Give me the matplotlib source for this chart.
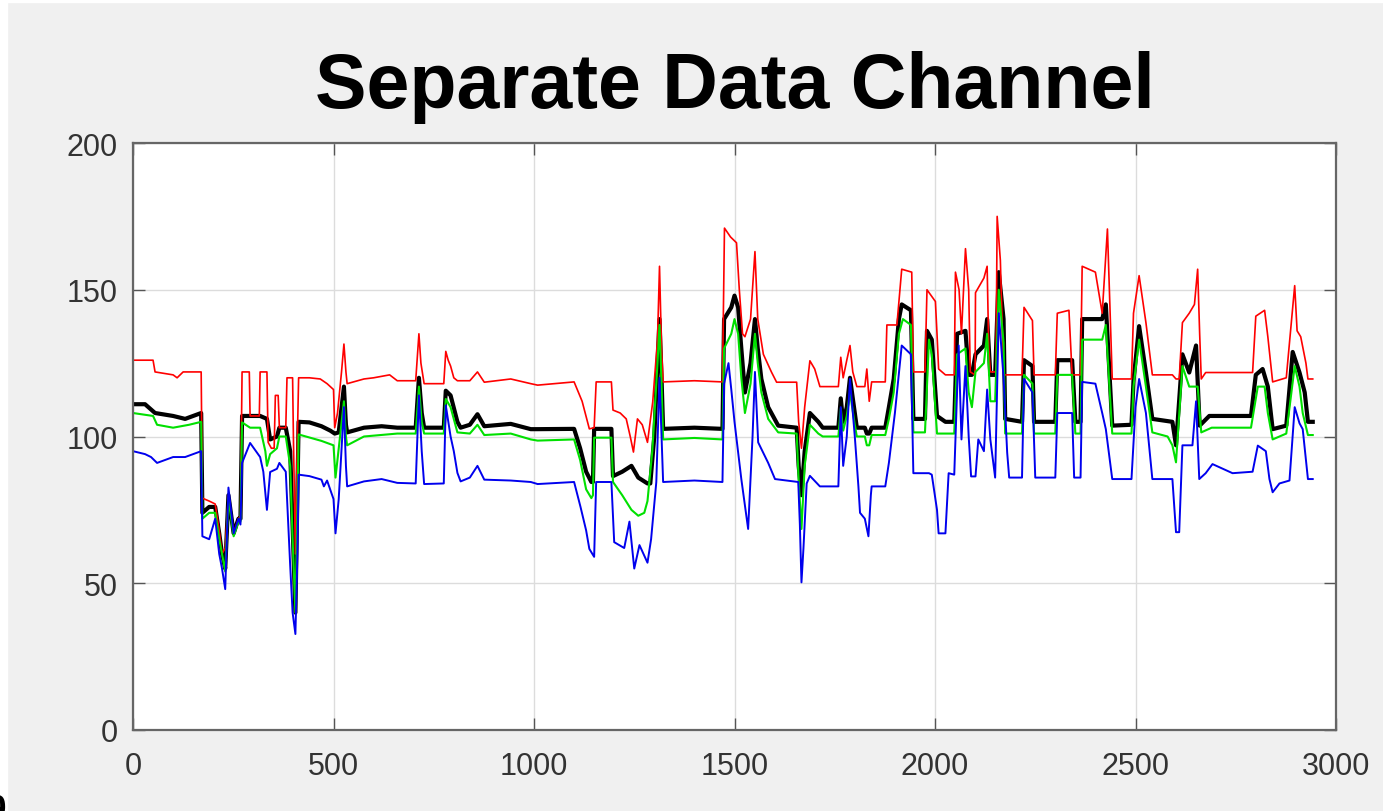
import matplotlib; matplotlib.use("Agg")
import matplotlib.pyplot as plt
from matplotlib.patches import Rectangle
plt.rcParams.update({"font.family":"Liberation Sans","font.size":22})

# values (x = sample index, y = channel value)
RED_X=[0,50,55,100,110,125,170,173,190,205,215,222,230,238,251,263,268,272,290,292,315,317,334,337,345,352,355,362,365,381,384,398,400,405,410,413,
 440,467,484,500,503,510,520,526,531,534,576,600,640,659,705,713,718,726,775,780,786,792,800,809,840,859,876,942,992,1009,
 1100,1120,1138,1150,1155,1193,1197,1215,1230,1240,1248,1258,1270,1283,1296,1308,1313,1318,1322,1400,1470,
 1475,1490,1505,1512,1520,1526,1540,1551,1558,1572,1592,1605,1655,1660,1667,1675,1688,1700,1713,1759,1765,1771,1780,1788,1795,1805,1825,1830,1836,1842,1876,1880,1905,1917,1942,1946,1975,1980,2001,2005,2009,2026,2048,2051,2060,2066,2076,2084,2088,2100,2101,2122,2130,2134,2138,2152,2155,2163,2171,2217,2222,2243,2247,2300,2305,2334,2342,2363,2367,2400,2417,2430,2442,2490,2495,2509,2526,2542,2592,2601,2609,2617,2634,2647,2655,2660,2664,2675,2792,2800,2822,2830,2842,2876,2897,2903,2912,2925,2930,2942]
RED_Y=[126,126,122,121,120,122,122,79,78,77,68,60,62,80,67,72,73,122,122,107,107,122,122,98,96,96,114,114,103,103,120,120,100,60,100,120,
 120,119.6,118,116,103,108,122,131.5,122,118,119.6,120,121,119,119,135,125,118,118,129,126,124,120,119,119,122,118.5,119.6,118,117.5,
 118.6,112,102.6,103,118.6,118.6,109,108,106,100,94.7,106,104,98,111.7,133,158,130,118.6,119,118.6,
 171,168,166,150,135,134,140,163,140,128,122,118.5,118.5,105,96,110,125.8,123,117,117,127,120,126,131,122,117,117,123,112,118.6,118.6,138,138,157,156,122,122,150,146,135,123,121,121,156,150,135,164,150,122,121,149,154,158,130,122,122,175,160,121,121,144,139.5,121,121,142,143,121,121,158,156,142,170.7,119.6,119.6,142,154.8,138.8,121,121,119.6,119.6,138.8,142,145,157,135,119.6,121.8,121.8,141,143,134,118.6,120,151.4,136,134,125,119.6,119.6]

BLACK_X=[0,30,55,100,130,170,173,190,205,215,222,230,238,251,263,268,272,292,317,334,342,359,365,381,392,398,405,410,413,
 440,470,492,503,513,526,531,534,576,620,659,705,713,720,726,775,780,792,809,817,840,859,876,942,992,1009,
 1100,1115,1130,1143,1147,1150,1193,1197,1220,1243,1260,1283,1290,1300,1308,1313,1318,1322,1400,1470,
 1474,1492,1500,1509,1517,1526,1540,1551,1558,1567,1584,1609,1655,1660,1667,1675,1688,1709,1720,1759,1765,1771,1780,1788,1800,1805,1825,1830,1836,1842,1876,1885,1897,1910,1917,1940,1946,1975,1980,1992,2005,2026,2048,2055,2076,2084,2092,2101,2122,2130,2138,2150,2159,2171,2175,2217,2222,2243,2247,2300,2305,2342,2350,2363,2367,2417,2426,2442,2490,2495,2509,2526,2542,2592,2601,2617,2634,2651,2660,2684,2788,2800,2817,2830,2842,2876,2892,2909,2922,2930,2942]
BLACK_Y=[111,111,108,107,106,108,74,76,76,67,60,55,80,67,72,72,107,107,107,106,99,100,103,103,95,70,40,80,105,
 104.8,103.5,102,101,101.4,117,104,101.4,103,103.5,103,103,120,108,103,103,115.6,114,105,103,104,107.6,103.5,104.3,102.5,102.5,
 102.6,96,88,84.5,84.5,102.6,102.6,86.5,88,90,86,84,84,100,125,140,120,102.6,103,102.6,
 140,144,148,144,130,115,125,140,130,119.6,110,103.7,103,90,80,95,108,105,103,103,113,105,110,120,108,103,103,101,101,103,103,110,119.6,140,145,143,106,106,136,133,107,105,105,135,136,121,121,128,131,140,121,121,156,140,106,105,126,124,105,105,126,126,105,105,140,140,145,103.7,104,119,137.6,121.8,106,105,97,128,121.8,131,103.7,107,107,121,123,117,102.5,103.7,128.8,121.8,115,105,105]

GREEN_X=[0,50,60,100,140,170,173,190,205,215,222,230,238,251,263,268,272,292,317,330,334,342,359,365,381,392,398,405,410,413,
 470,500,505,513,526,531,534,576,659,705,713,720,726,775,780,792,809,840,859,876,942,992,1009,
 1100,1115,1130,1143,1147,1150,1193,1197,1220,1243,1260,1275,1283,1295,1308,1313,1318,1322,1400,1470,
 1474,1492,1500,1509,1517,1526,1540,1551,1558,1567,1584,1609,1655,1660,1667,1675,1688,1709,1720,1759,1765,1771,1780,1788,1800,1805,1825,1830,1836,1842,1876,1885,1897,1910,1920,1940,1946,1975,1985,1992,2005,2026,2048,2055,2076,2084,2092,2101,2122,2130,2138,2150,2159,2171,2175,2217,2222,2243,2247,2300,2305,2342,2350,2363,2367,2417,2426,2442,2490,2495,2509,2526,2542,2580,2592,2601,2617,2634,2655,2664,2690,2788,2805,2822,2830,2842,2876,2897,2909,2917,2930,2942]
GREEN_Y=[108,107,104,103,104,105,72,74,74,65,60,54,79,66,71,71,104.8,103,103,95,90,94,96,100,100,90,65,40,75,100.7,
 98.5,97,86,96,112,100,97,100,101,101,117,105,101,101,112.8,110,101.4,101,104,100.5,101,99,98.6,
 99,92,82,79,80,99.6,99.6,84.5,80,75,73,74,78,95,125,138,118,99,99.5,99,
 130,135,140,135,120,108,118,135,125,115,106,101.4,101,85,68.5,90,104,101,100,100,109.5,102,107,115,104,100,100,97,97,100.5,100.5,106,115,135,140,138,101.4,101.4,133,128,101,101,101,128,130,115,110,122,125,135,112,112,150,132,101,101,121,118,101,101,121,121,101,101,133,133,138,101,101,117,133,117,101.4,100,97,91.2,124,117,117,101.4,103,103,117,117,108,99,101,124,117,108,100.5,100.5]

BLUE_X=[0,30,45,60,80,100,130,170,173,190,205,215,222,230,238,251,263,268,272,292,317,325,334,342,359,365,381,392,398,405,410,413,
 440,470,476,484,500,505,513,526,531,534,576,620,659,705,713,720,726,775,780,792,800,809,817,840,859,876,942,992,1009,
 1100,1116,1130,1138,1150,1155,1193,1200,1225,1238,1250,1263,1283,1292,1305,1313,1318,1322,1400,1470,
 1474,1485,1492,1500,1517,1534,1545,1551,1559,1584,1601,1659,1663,1667,1672,1680,1688,1713,1759,1765,1771,1780,1788,1800,1809,1813,1825,1834,1840,1842,1876,1885,1900,1917,1940,1946,1985,1992,2005,2009,2026,2034,2048,2055,2059,2066,2076,2084,2090,2101,2108,2122,2130,2138,2150,2159,2171,2180,2185,2217,2222,2243,2250,2300,2305,2342,2347,2363,2367,2400,2417,2426,2442,2490,2500,2509,2526,2542,2592,2601,2609,2617,2642,2651,2659,2675,2692,2742,2792,2805,2825,2834,2842,2859,2884,2897,2909,2917,2930,2942]
BLUE_Y=[95,94,93,91,92,93,93,95,66,65,72,60,55,48,82.6,67,72,70,91,97.8,93,88,75,87.9,89,91,88,56,40,32.7,60,87,
 86.5,85.3,83,85,78.7,67,78.7,110,90,83,84.7,85.5,84.2,84,114,95,83.8,84,110.6,100,95,87.6,84.7,86,90,85.3,85,84.5,83.8,
 84.5,76,68,61.7,59,84.5,84.5,64,62,71,55,63,57,65,84.5,120,100,84.5,85,84.5,
 118,125,116,105,85.5,68.5,100,122,98,91,85.5,84.5,70,50.3,62,84,86.6,83,83,110,90,100,119.6,100,83,74,72,66,80,83,83,91,108,131,128,87.5,87.5,87,75,67,67,87.5,87,115,131,99,124,100,86.4,86.4,99,95,116,99,86,142,120,94.5,86,86,119.6,115,86,86,108,108,86,86,118.6,118,108,102.5,85.5,85.5,110,119.6,108,85.5,85.5,67.4,67.4,97,97,112,85.5,87.5,90.6,87.5,88,96.9,95,85.5,81,84,85,110,104.5,102.5,85.5,85.5]

fig=plt.figure(figsize=(13.83,8.12),dpi=100,facecolor="#f0f0f0")
# white strip along the left/top edge of the screenshot
fig.patches.append(Rectangle((0,0),7/1383,1,transform=fig.transFigure,color="white",zorder=0))
fig.patches.append(Rectangle((0,1-3/812),1,3/812,transform=fig.transFigure,color="white",zorder=0))
ax=fig.add_axes([133/1383,1-731/812,(1336-133)/1383,(731-144)/812])
ax.plot(BLACK_X,BLACK_Y,color="black",lw=3.0)
ax.plot(RED_X,RED_Y,color="#ff0000",lw=1.2)
ax.plot(GREEN_X,GREEN_Y,color="#00e000",lw=1.5)
ax.plot(BLUE_X,BLUE_Y,color="#0000ee",lw=1.4)
ax.set_xlim(0,3000); ax.set_ylim(0,200)
ax.set_xticks(range(0,3001,500)); ax.set_yticks(range(0,201,50))
ax.grid(True,color="#dcdcdc",lw=1)
ax.set_axisbelow(True)
ax.tick_params(direction="in",length=8.5,width=1,color="#555555",labelcolor="#333333",
               top=True,right=True,labelsize=22)
ax.tick_params(axis="y",pad=11); ax.tick_params(axis="x",pad=15)
for s in ax.spines.values(): s.set_color("#666666"); s.set_linewidth(1.6)
ax.set_title("Separate Data Channel",fontsize=55.5,fontweight="bold",pad=26)
fig.text(6/1383,-7/812,"9",ha="right",va="baseline",fontsize=25,fontweight="bold",family="Liberation Serif")
fig.savefig("out.png",dpi=100,facecolor=fig.get_facecolor())
